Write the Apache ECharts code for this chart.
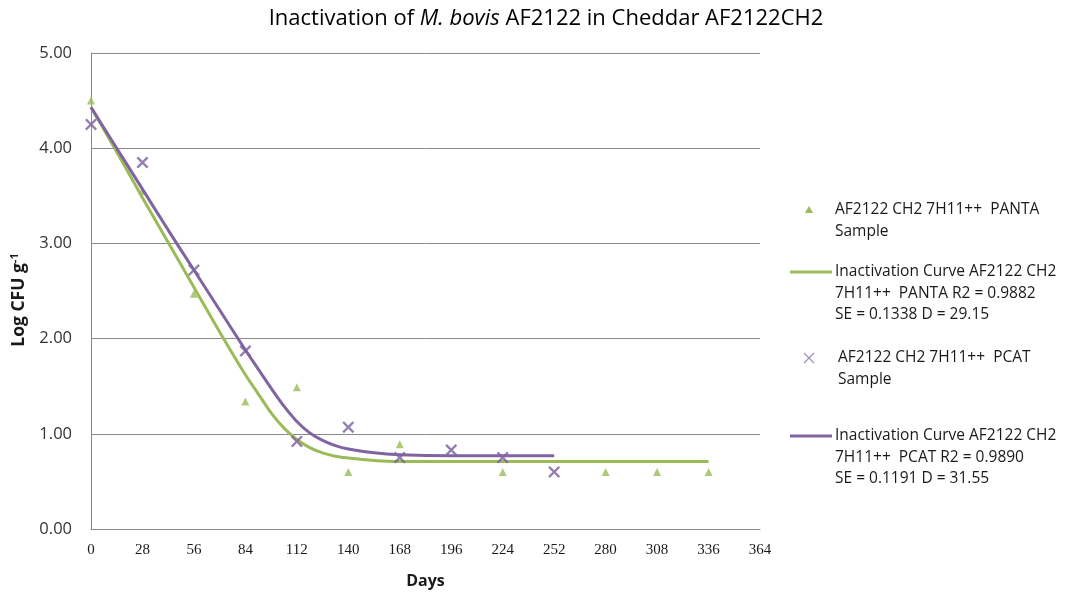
<!DOCTYPE html>
<html>
<head>
<meta charset="utf-8">
<title>Inactivation of M. bovis AF2122 in Cheddar AF2122CH2</title>
<script src="https://cdn.jsdelivr.net/npm/echarts@6/dist/echarts.min.js"></script>
<style>
  html, body { margin: 0; padding: 0; background: #ffffff; }
  #chart { width: 1069px; height: 594px; }
</style>
</head>
<body>
<div id="chart"></div>
<script>
// Sampling days (x axis ticks every 28 days)
const xTicks = [0, 28, 56, 84, 112, 140, 168, 196, 224, 252, 280, 308, 336, 364];
const yTicks = [0, 1, 2, 3, 4, 5];

// Observed counts, log CFU/g — PANTA medium
const pantaDays   = [0, 28, 56, 84, 112, 140, 168, 224, 280, 308, 336];
const pantaValues = [4.50, 3.55, 2.47, 1.34, 1.49, 0.60, 0.89, 0.60, 0.60, 0.60, 0.60];

// Observed counts, log CFU/g — PCAT medium
const pcatDays   = [0, 28, 56, 84, 112, 140, 168, 196, 224, 252];
const pcatValues = [4.25, 3.85, 2.72, 1.87, 0.92, 1.07, 0.75, 0.83, 0.75, 0.60];

// Fitted inactivation curve, PANTA
const pantaCurveDays   = [0, 14, 28, 42, 56, 70, 84, 91, 98, 105, 112, 119, 126, 133, 140, 154, 168, 196, 252, 336];
const pantaCurveValues = [4.43, 3.96, 3.48, 3.01, 2.54, 2.07, 1.62, 1.42, 1.22, 1.06, 0.94, 0.855, 0.80, 0.765, 0.745, 0.72, 0.71, 0.71, 0.71, 0.71];

// Fitted inactivation curve, PCAT
const pcatCurveDays   = [0, 14, 28, 42, 56, 70, 84, 91, 98, 105, 112, 119, 126, 133, 140, 154, 168, 196, 224, 252];
const pcatCurveValues = [4.43, 4.00, 3.57, 3.14, 2.72, 2.30, 1.88, 1.68, 1.48, 1.29, 1.13, 1.01, 0.93, 0.875, 0.84, 0.80, 0.78, 0.77, 0.77, 0.77];

// Legend entries: [kind, colour, text lines]
const legendEntries = [
  ['triangle', '#9BBB59', ['AF2122 CH2 7H11++  PANTA', 'Sample']],
  ['line', '#9BBB59', ['Inactivation Curve AF2122 CH2', '7H11++  PANTA R2 = 0.9882', 'SE = 0.1338 D = 29.15']],
  ['cross', '#A28FBF', ['AF2122 CH2 7H11++  PCAT', 'Sample']],
  ['line', '#8064A2', ['Inactivation Curve AF2122 CH2', '7H11++  PCAT R2 = 0.9890', 'SE = 0.1191 D = 31.55']]
];

const GREEN = '#9BBB59';
const PURPLE = '#8064A2';
const CROSS = 'path://M0,1.4L1.4,0L5,3.6L8.6,0L10,1.4L6.4,5L10,8.6L8.6,10L5,6.4L1.4,10L0,8.6L3.6,5Z';
const SANS = '"Open Sans", Lato, sans-serif';

const pair = (xs, ys) => xs.map((x, i) => [x, ys[i]]);

// Legend drawn as graphic groups so each icon sits on the first text line
const legendTop = [210, 272, 358, 436];
const lineStep = 21.5;
const legendGraphics = [];
legendEntries.forEach((entry, k) => {
  const [kind, color, lines] = entry;
  const y0 = legendTop[k];
  if (kind === 'line') {
    legendGraphics.push({ type: 'line', shape: { x1: 790, y1: y0, x2: 832, y2: y0 },
      style: { stroke: color, lineWidth: 3 } });
  } else if (kind === 'triangle') {
    legendGraphics.push({ type: 'polygon', shape: { points: [[809, y0 - 4], [813, y0 + 3], [805, y0 + 3]] },
      style: { fill: color } });
  } else {
    legendGraphics.push({ type: 'polyline', shape: { points: [[804, y0 - 5], [814, y0 + 5]] },
      style: { stroke: color, lineWidth: 1.2, fill: null } });
    legendGraphics.push({ type: 'polyline', shape: { points: [[814, y0 - 5], [804, y0 + 5]] },
      style: { stroke: color, lineWidth: 1.2, fill: null } });
  }
  lines.forEach((t, j) => {
    legendGraphics.push({ type: 'text', x: kind === 'cross' ? 838 : 835, y: y0 + j * lineStep,
      style: { text: t, fill: '#1a1a1a', font: '15.5px ' + SANS, verticalAlign: 'middle', align: 'left' } });
  });
});

const chart = echarts.init(document.getElementById('chart'), null, { renderer: 'canvas' });

chart.setOption({
  animation: false,
  backgroundColor: '#ffffff',
  title: {
    text: '{n|Inactivation of }{i|M. bovis}{n| AF2122 in Cheddar AF2122CH2}',
    left: 541, top: 3, textAlign: 'center',
    textStyle: {
      fontWeight: 'normal',
      rich: {
        n: { fontFamily: SANS, fontSize: 22, fontWeight: 'normal', color: '#000000' },
        i: { fontFamily: SANS, fontSize: 22, fontWeight: 'normal', color: '#000000', fontStyle: 'italic' }
      }
    }
  },
  grid: { left: 91, right: 309, top: 53, bottom: 65, containLabel: false },
  xAxis: {
    type: 'value', min: 0, max: 364, interval: 28,
    name: 'Days', nameLocation: 'middle', nameGap: 44,
    nameTextStyle: { fontFamily: SANS, fontSize: 16, fontWeight: 'bold', color: '#1a1a1a' },
    axisLine: { show: true, lineStyle: { color: '#8a8a8a', width: 1 } },
    axisTick: { show: false },
    splitLine: { show: false },
    axisLabel: { margin: 14, fontFamily: '"Liberation Serif", serif', fontSize: 15, color: '#1a1a1a',
      formatter: v => xTicks.includes(v) ? String(v) : '' }
  },
  yAxis: {
    type: 'value', min: 0, max: 5, interval: 1,
    name: '{b|Log CFU g}{s|-1}', nameLocation: 'middle', nameGap: 62, nameRotate: 90,
    nameTextStyle: {
      padding: [0, 18, 0, 0],
      rich: {
        b: { fontFamily: SANS, fontSize: 17.5, fontWeight: 'bold', color: '#1a1a1a' },
        s: { fontFamily: SANS, fontSize: 11, fontWeight: 'bold', color: '#1a1a1a', verticalAlign: 'top', lineHeight: 20 }
      }
    },
    axisLine: { show: true, lineStyle: { color: '#8a8a8a', width: 1 } },
    axisTick: { show: false },
    splitLine: { show: true, lineStyle: { color: '#8a8a8a', width: 1 } },
    axisLabel: { margin: 19, fontFamily: SANS, fontSize: 16.5, color: '#333333',
      formatter: v => yTicks.includes(v) ? v.toFixed(2) : '' }
  },
  graphic: legendGraphics,
  series: [
    {
      name: 'AF2122 CH2 7H11++  PANTA Sample', type: 'scatter',
      data: pair(pantaDays, pantaValues),
      symbol: 'triangle', symbolSize: [8, 8],
      itemStyle: { color: GREEN }, z: 2
    },
    {
      name: 'Inactivation Curve PANTA', type: 'line',
      data: pair(pantaCurveDays, pantaCurveValues),
      smooth: 0.3, showSymbol: false, symbol: 'none',
      lineStyle: { color: GREEN, width: 3 }, z: 3
    },
    {
      name: 'AF2122 CH2 7H11++  PCAT Sample', type: 'scatter',
      data: pair(pcatDays, pcatValues),
      symbol: CROSS, symbolSize: 12,
      itemStyle: { color: '#7A5F9E' }, z: 4
    },
    {
      name: 'Inactivation Curve PCAT', type: 'line',
      data: pair(pcatCurveDays, pcatCurveValues),
      smooth: 0.3, showSymbol: false, symbol: 'none',
      lineStyle: { color: PURPLE, width: 3 }, z: 5
    }
  ]
});
</script>
</body>
</html>
